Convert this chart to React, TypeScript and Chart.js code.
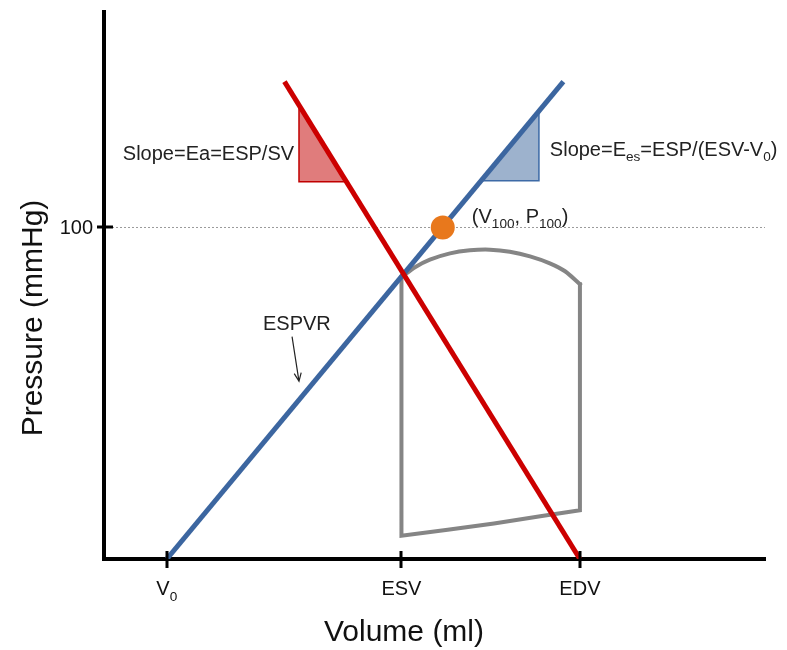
import React, { useEffect, useRef } from 'react';
import { Chart, registerables } from 'chart.js';

Chart.register(...registerables);

// ---- Axis ticks ----
const xTickValues = [19, 90, 144];
const xTickLabels = ['V_{0}', 'ESV', 'EDV'];
const yTickValues = [100];
const yTickLabels = ['100'];
const xTitle = 'Volume (ml)';
const yTitle = 'Pressure (mmHg)';

// ---- ESPVR line (blue) ----
const espvrVolume = [19, 139];
const espvrPressure = [0, 144];

// ---- Arterial elastance line (red) ----
const eaVolume = [54.6, 144];
const eaPressure = [144, 0];

// ---- Pressure-volume loop (grey) ----
const loopTopVolume = [90, 94.1, 98.6, 104.7, 110.7, 116.8, 122.8, 128.9, 134.9, 139.5, 144];
const loopTopPressure = [85, 88.0, 90.3, 92.2, 93.1, 93.3, 92.7, 91.3, 89.2, 86.8, 82.9];
const loopRestVolume = [144, 144, 132, 118, 104, 90, 90];
const loopRestPressure = [82.9, 14.7, 12.9, 10.7, 8.8, 7, 85];

// ---- Slope triangles ----
const eaTriVolume = [59, 59, 73, 59];
const eaTriPressure = [136.3, 113.8, 113.8, 136.3];
const eesTriVolume = [131.6, 131.6, 114.1, 131.6];
const eesTriPressure = [135.1, 114.1, 114.1, 135.1];

// ---- (V100, P100) point ----
const pointVolume = [102.5];
const pointPressure = [100];

// ---- 100 mmHg reference line ----
const refVolume = [0, 200];
const refPressure = [100, 100];

// ---- Annotations ----
const annotationTexts = ['Slope=Ea=ESP/SV', 'Slope=E_{es}=ESP/(ESV-V_{0})', '(V_{100}, P_{100})', 'ESPVR'];
const annotationVolume = [5.7, 134.9, 111.3, 48.1];
const annotationPressure = [120.4, 121.6, 101.5, 69.2];
const arrowVolume = [56.9, 59.0];
const arrowPressure = [67.1, 53.6];

const FONT = '"Liberation Sans", Arial, Helvetica, sans-serif';

const pts = (xs: number[], ys: number[]) => xs.map((x, i) => ({ x, y: ys[i] }));

type Seg = { t: string; sub: boolean };
function parseRich(text: string): Seg[] {
  const segs: Seg[] = [];
  const re = /_\{([^}]*)\}/g;
  let last = 0;
  let m: RegExpExecArray | null;
  while ((m = re.exec(text))) {
    if (m.index > last) segs.push({ t: text.slice(last, m.index), sub: false });
    segs.push({ t: m[1], sub: true });
    last = re.lastIndex;
  }
  if (last < text.length) segs.push({ t: text.slice(last), sub: false });
  return segs;
}

function drawRich(
  ctx: CanvasRenderingContext2D,
  text: string,
  x: number,
  y: number,
  size: number,
  align: 'left' | 'center' | 'right',
  color: string
) {
  const segs = parseRich(text);
  const subSize = size * 0.68;
  let total = 0;
  const widths = segs.map((s) => {
    ctx.font = `${s.sub ? subSize : size}px ${FONT}`;
    const w = ctx.measureText(s.t).width;
    total += w;
    return w;
  });
  let cx = align === 'left' ? x : align === 'center' ? x - total / 2 : x - total;
  ctx.fillStyle = color;
  ctx.textAlign = 'left';
  ctx.textBaseline = 'alphabetic';
  segs.forEach((s, i) => {
    ctx.font = `${s.sub ? subSize : size}px ${FONT}`;
    ctx.fillText(s.t, cx, s.sub ? y + size * 0.28 : y);
    cx += widths[i];
  });
}

const decorPlugin = {
  id: 'decor',
  afterDraw(chart: any) {
    const ctx: CanvasRenderingContext2D = chart.ctx;
    const xs = chart.scales.x;
    const ys = chart.scales.y;
    const area = chart.chartArea;
    ctx.save();

    // axis corner
    ctx.fillStyle = '#000';
    ctx.fillRect(area.left - 2, area.bottom - 2, 4, 4);

    // tick marks crossing the axes
    ctx.strokeStyle = '#000';
    ctx.lineWidth = 3;
    ctx.beginPath();
    xTickValues.forEach((v) => {
      const px = Math.round(xs.getPixelForValue(v));
      ctx.moveTo(px, area.bottom - 8);
      ctx.lineTo(px, area.bottom + 9);
    });
    yTickValues.forEach((v) => {
      const py = Math.round(ys.getPixelForValue(v));
      ctx.moveTo(area.left - 7, py);
      ctx.lineTo(area.left + 9, py);
    });
    ctx.stroke();

    // tick labels
    xTickValues.forEach((v, i) => {
      drawRich(ctx, xTickLabels[i], xs.getPixelForValue(v), area.bottom + 36, 20, 'center', '#111');
    });
    yTickValues.forEach((v, i) => {
      drawRich(ctx, yTickLabels[i], area.left - 11, ys.getPixelForValue(v) + 7, 20, 'right', '#111');
    });

    // axis titles
    drawRich(ctx, xTitle, 404, 641, 30, 'center', '#111');
    ctx.save();
    ctx.translate(42, 318);
    ctx.rotate(-Math.PI / 2);
    drawRich(ctx, yTitle, 0, 0, 30, 'center', '#111');
    ctx.restore();

    // annotations
    annotationTexts.forEach((t, i) => {
      drawRich(ctx, t, xs.getPixelForValue(annotationVolume[i]), ys.getPixelForValue(annotationPressure[i]), 20, 'left', '#222');
    });

    // arrow
    const ax1 = xs.getPixelForValue(arrowVolume[0]);
    const ay1 = ys.getPixelForValue(arrowPressure[0]);
    const ax2 = xs.getPixelForValue(arrowVolume[1]);
    const ay2 = ys.getPixelForValue(arrowPressure[1]);
    const ang = Math.atan2(ay2 - ay1, ax2 - ax1);
    ctx.strokeStyle = '#222';
    ctx.lineWidth = 1.2;
    ctx.beginPath();
    ctx.moveTo(ax1, ay1);
    ctx.lineTo(ax2, ay2);
    ctx.moveTo(ax2 - 9 * Math.cos(ang - 0.4), ay2 - 9 * Math.sin(ang - 0.4));
    ctx.lineTo(ax2, ay2);
    ctx.lineTo(ax2 - 9 * Math.cos(ang + 0.4), ay2 - 9 * Math.sin(ang + 0.4));
    ctx.stroke();

    ctx.restore();
  },
};

export default function App() {
  const ref = useRef<HTMLCanvasElement>(null);

  useEffect(() => {
    if (!ref.current) return;
    const lineBase = { pointRadius: 0, fill: false, tension: 0 };
    const chart = new Chart(ref.current, {
      type: 'line',
      data: {
        datasets: [
          {
            ...lineBase,
            label: '(V100, P100)',
            data: pts(pointVolume, pointPressure),
            showLine: false,
            pointRadius: 12,
            pointHoverRadius: 12,
            pointBackgroundColor: '#e8781c',
            pointBorderWidth: 0,
            borderColor: '#e8781c',
          },
          {
            ...lineBase,
            label: 'Ea',
            data: pts(eaVolume, eaPressure),
            borderColor: '#cc0000',
            borderWidth: 5,
          },
          {
            ...lineBase,
            label: 'ESPVR',
            data: pts(espvrVolume, espvrPressure),
            borderColor: '#3c66a0',
            borderWidth: 5,
          },
          {
            ...lineBase,
            label: 'Ea slope',
            data: pts(eaTriVolume, eaTriPressure),
            borderColor: '#c00000',
            borderWidth: 1.5,
            backgroundColor: '#e07c7c',
            fill: 'shape',
          },
          {
            ...lineBase,
            label: 'Ees slope',
            data: pts(eesTriVolume, eesTriPressure),
            borderColor: '#3d6aa6',
            borderWidth: 1.5,
            backgroundColor: '#9db2cd',
            fill: 'shape',
          },
          {
            ...lineBase,
            label: 'PV loop top',
            data: pts(loopTopVolume, loopTopPressure),
            borderColor: '#858585',
            borderWidth: 4,
            tension: 0.3,
            borderCapStyle: 'square',
          },
          {
            ...lineBase,
            label: 'PV loop',
            data: pts(loopRestVolume, loopRestPressure),
            borderColor: '#858585',
            borderWidth: 4,
            borderCapStyle: 'square',
          },
          {
            ...lineBase,
            label: '100 mmHg',
            data: pts(refVolume, refPressure),
            borderColor: '#9a9a9a',
            borderWidth: 1,
            borderDash: [2, 2],
          },
        ],
      },
      options: {
        responsive: false,
        animation: false,
        events: [],
        layout: { padding: { top: 7, right: 22, left: 0, bottom: 0 } },
        plugins: {
          legend: { display: false },
          tooltip: { enabled: false },
        },
        scales: {
          x: {
            type: 'linear',
            min: 0,
            max: 200,
            grid: { display: false },
            ticks: { display: false },
            border: { display: true, color: '#000', width: 4 },
            afterFit: (s: any) => {
              s.height = 91;
            },
          },
          y: {
            type: 'linear',
            min: 0,
            max: 165,
            grid: { display: false },
            ticks: { display: false },
            border: { display: true, color: '#000', width: 4 },
            afterFit: (s: any) => {
              s.width = 104;
            },
          },
        },
      },
      plugins: [decorPlugin],
    } as any);
    return () => chart.destroy();
  }, []);

  return (
    <div style={{ position: 'fixed', left: 0, top: 0, width: 787, height: 650, background: '#fff' }}>
      <canvas ref={ref} width={787} height={650} style={{ display: 'block' }} />
    </div>
  );
}
